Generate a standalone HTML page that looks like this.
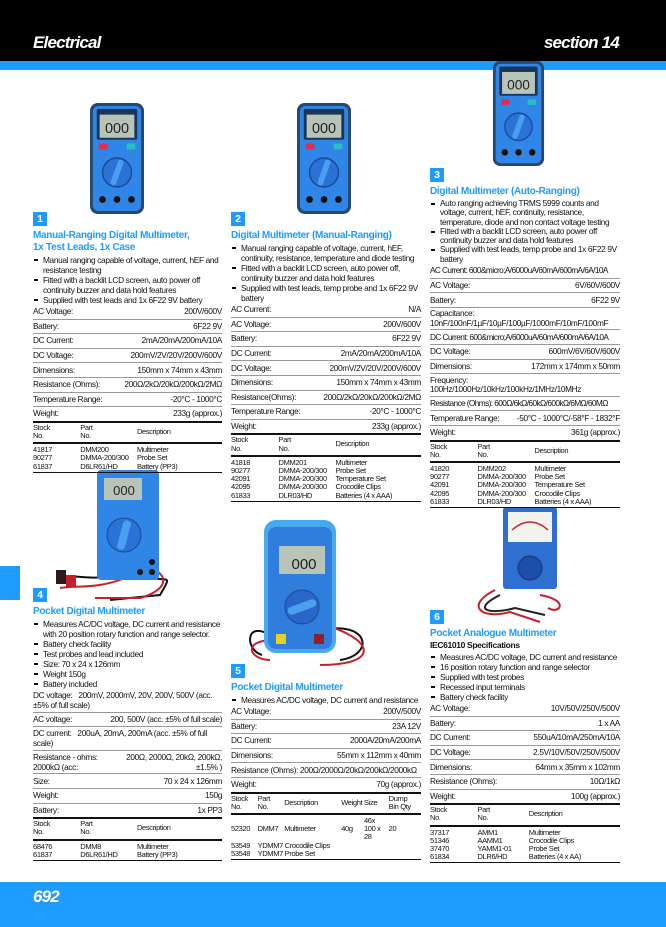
<!DOCTYPE html>
<html><head><meta charset="utf-8">
<style>
*{margin:0;padding:0;box-sizing:border-box}
body{width:666px;height:927px;position:relative;background:#fff;font-family:"Liberation Sans",sans-serif;color:#111;overflow:hidden}
.hdr{position:absolute;left:0;top:0;width:666px;height:61px;background:#000}
.hdr span{position:absolute;top:33px;color:#fff;font-weight:bold;font-style:italic;font-size:17px;letter-spacing:-0.8px}
.stripe{position:absolute;left:0;top:61px;width:666px;height:9px;background:#1e9bff}
.foot{position:absolute;left:0;top:882px;width:666px;height:45px;background:#1e9bff}
.foot span{position:absolute;left:33px;top:5px;color:#fff;font-weight:bold;font-style:italic;font-size:17px;letter-spacing:-0.8px}
.tab{position:absolute;left:0;top:566px;width:20px;height:34px;background:#1e9bff}
.sec{position:absolute;font-size:8.3px;letter-spacing:-0.35px}
.badge{width:14px;height:14px;background:#1e9bff;color:#fff;font-weight:bold;font-size:10.5px;text-align:center;line-height:14px;margin-bottom:4px;letter-spacing:0}
.title{color:#1e9bff;font-weight:bold;font-size:10px;line-height:12px;letter-spacing:-0.3px}
.sub{font-weight:bold;font-size:8.5px;line-height:11px}
ul{list-style:none;line-height:10px;margin-top:1px}
ul li{padding-left:10px;position:relative}
ul li:before{content:"";position:absolute;left:1px;top:4px;width:4px;height:2px;background:#111}
.row{display:flex;justify-content:space-between;line-height:11px;padding:1.3px 0 1.3px 0;border-bottom:1px solid #999}
.row.first{border-top:none}
.row.blk{display:block}
.row.blk b{font-weight:normal}
table{width:100%;border-collapse:collapse;font-size:7.5px;line-height:8.2px;border-top:2px solid #111;border-bottom:1.5px solid #111}
th{font-weight:normal;text-align:left;vertical-align:middle;padding:1px 0 2px 0;border-bottom:2px solid #111}
td{padding:0;vertical-align:top}
tbody tr:first-child td{padding-top:2px}
tbody tr:last-child td{padding-bottom:1px}
</style></head><body>
<div class="hdr"><span style="left:33px">Electrical</span><span style="right:47px">section 14</span></div>
<div class="stripe"></div>
<div class="tab"></div>
<div class="foot"><span>692</span></div>

<svg width="666" height="927" style="position:absolute;left:0;top:0" viewBox="0 0 666 927">
<defs>
<symbol id="m" viewBox="0 0 56 115">
<rect x="0" y="0" width="56" height="115" rx="8" fill="#27476f"/>
<rect x="3" y="3" width="50" height="109" rx="6" fill="#2f86e6"/>
<rect x="7" y="6" width="42" height="32" rx="2" fill="#1b3558"/>
<rect x="10" y="12" width="36" height="24" fill="#b9c4b8"/>
<text x="28" y="31" font-family="Liberation Sans" font-size="15" text-anchor="middle" fill="#222">000</text>
<rect x="9" y="42" width="9" height="6" fill="#d83050"/>
<rect x="38" y="42" width="9" height="6" fill="#28c0c0"/>
<circle cx="28" cy="72" r="15" fill="#2a72d6" stroke="#1b4b90" stroke-width="1.5"/>
<rect x="25" y="58" width="6" height="28" rx="3" fill="#4aa0f0" transform="rotate(20 28 72)"/>
<circle cx="13" cy="100" r="3.5" fill="#111"/><circle cx="28" cy="100" r="3.5" fill="#111"/><circle cx="43" cy="100" r="3.5" fill="#111"/>
</symbol>
</defs>
<use href="#m" x="90" y="102" width="54" height="113"/>
<use href="#m" x="297" y="102" width="54" height="113"/>
<use href="#m" x="489" y="61" width="59" height="105"/>
<!-- meter 4 -->
<path d="M120 572 C90 585 70 570 58 580 M140 575 C165 585 175 570 160 595 L110 600" stroke="#111" stroke-width="2" fill="none"/>
<path d="M125 578 C95 590 75 585 60 588 M150 568 C170 575 168 590 140 598 L95 598" stroke="#c8202a" stroke-width="2" fill="none"/>
<rect x="97" y="470" width="62" height="110" rx="4" fill="#2f86e6"/>
<rect x="104" y="478" width="38" height="22" fill="#b9c4b8"/>
<text x="124" y="495" font-family="Liberation Sans" font-size="13" text-anchor="middle" fill="#222">000</text>
<circle cx="124" cy="535" r="17" fill="#2a72d6" stroke="#1b4b90"/>
<rect x="120" y="520" width="8" height="30" rx="4" fill="#4aa0f0" transform="rotate(15 124 535)"/>
<circle cx="152" cy="562" r="3" fill="#111"/><circle cx="152" cy="572" r="3" fill="#111"/><circle cx="140" cy="572" r="3" fill="#111"/>
<rect x="56" y="570" width="10" height="14" fill="#301818"/><rect x="66" y="575" width="10" height="12" fill="#c8202a"/>
<!-- meter 5 -->
<path d="M270 635 C245 620 245 650 262 655 M320 630 C370 620 375 655 340 660" stroke="#111" stroke-width="2" fill="none"/>
<path d="M275 640 C240 640 250 660 270 660 M325 625 C375 640 380 665 320 665" stroke="#c8202a" stroke-width="2" fill="none"/>
<rect x="264" y="520" width="72" height="133" rx="12" fill="#4aa8ee"/>
<rect x="268" y="527" width="64" height="122" rx="8" fill="#2f7ddc"/>
<rect x="279" y="546" width="46" height="28" fill="#b9c4b8"/>
<text x="304" y="569" font-family="Liberation Sans" font-size="15" text-anchor="middle" fill="#222">000</text>
<circle cx="302" cy="607" r="17" fill="#2a66c8" stroke="#1b4b90"/>
<rect x="298" y="592" width="8" height="30" rx="4" fill="#4aa0f0" transform="rotate(70 302 607)"/>
<rect x="276" y="634" width="10" height="10" fill="#e8d020"/><rect x="314" y="634" width="10" height="10" fill="#902030"/>
<!-- meter 6 -->
<path d="M495 590 C465 605 480 620 510 612 L540 622 M540 595 C570 600 560 615 548 608" stroke="#c8202a" stroke-width="2" fill="none"/>
<path d="M500 595 C470 610 490 615 515 608 L545 615" stroke="#222" stroke-width="2" fill="none"/>
<rect x="503" y="507" width="54" height="82" rx="3" fill="#2f6fd0"/>
<rect x="508" y="512" width="44" height="30" fill="#f2f2ee"/>
<path d="M512 530 Q530 514 548 530" stroke="#c03030" stroke-width="1.5" fill="none"/>
<circle cx="530" cy="568" r="12" fill="#1e4fa8" stroke="#123870"/>
</svg>

<!-- Section 1 -->
<div class="sec" style="left:33px;top:212px;width:189px">
<div class="badge">1</div>
<div class="title">Manual-Ranging Digital Multimeter,<br>1x Test Leads, 1x Case</div>
<ul><li>Manual ranging capable of voltage, current, hEF and resistance testing</li><li>Fitted with a backlit LCD screen, auto power off continuity buzzer and data hold features</li><li>Supplied with test leads and 1x 6F22 9V battery</li></ul>
<div class="row"><span>AC Voltage:</span><span>200V/600V</span></div>
<div class="row"><span>Battery:</span><span>6F22 9V</span></div>
<div class="row"><span>DC Current:</span><span>2mA/20mA/200mA/10A</span></div>
<div class="row"><span>DC Voltage:</span><span>200mV/2V/20V/200V/600V</span></div>
<div class="row"><span>Dimensions:</span><span>150mm x 74mm x 43mm</span></div>
<div class="row"><span>Resistance (Ohms):</span><span>200Ω/2kΩ/20kΩ/200kΩ/2MΩ</span></div>
<div class="row"><span>Temperature Range:</span><span>-20°C - 1000°C</span></div>
<div class="row" style="border-bottom:none"><span>Weight:</span><span>233g (approx.)</span></div>
<table><thead><tr><th style="width:25%">Stock<br>No.</th><th style="width:30%">Part<br>No.</th><th>Description</th></tr></thead>
<tbody><tr><td>41817</td><td>DMM200</td><td>Multimeter</td></tr><tr><td>90277</td><td>DMMA-200/300</td><td>Probe Set</td></tr><tr><td>61837</td><td>D6LR61/HD</td><td>Battery (PP3)</td></tr></tbody></table>
</div>

<!-- Section 2 -->
<div class="sec" style="left:231px;top:212px;width:190px">
<div class="badge">2</div>
<div class="title">Digital Multimeter (Manual-Ranging)</div>
<ul><li>Manual ranging capable of voltage, current, hEF, continuity, resistance, temperature and diode testing</li><li>Fitted with a backlit LCD screen, auto power off, continuity buzzer and data hold features</li><li>Supplied with test leads, temp probe and 1x 6F22 9V battery</li></ul>
<div class="row"><span>AC Current:</span><span>N/A</span></div>
<div class="row"><span>AC Voltage:</span><span>200V/600V</span></div>
<div class="row"><span>Battery:</span><span>6F22 9V</span></div>
<div class="row"><span>DC Current:</span><span>2mA/20mA/200mA/10A</span></div>
<div class="row"><span>DC Voltage:</span><span>200mV/2V/20V/200V/600V</span></div>
<div class="row"><span>Dimensions:</span><span>150mm x 74mm x 43mm</span></div>
<div class="row"><span>Resistance(Ohms):</span><span>200Ω/2kΩ/20kΩ/200kΩ/2MΩ</span></div>
<div class="row"><span>Temperature Range:</span><span>-20°C - 1000°C</span></div>
<div class="row" style="border-bottom:none"><span>Weight:</span><span>233g (approx.)</span></div>
<table><thead><tr><th style="width:25%">Stock<br>No.</th><th style="width:30%">Part<br>No.</th><th>Description</th></tr></thead>
<tbody><tr><td>41818</td><td>DMM201</td><td>Multimeter</td></tr><tr><td>90277</td><td>DMMA-200/300</td><td>Probe Set</td></tr><tr><td>42091</td><td>DMMA-200/300</td><td>Temperature Set</td></tr><tr><td>42095</td><td>DMMA-200/300</td><td>Crocodile Clips</td></tr><tr><td>61833</td><td>DLR03/HD</td><td>Batteries (4 x AAA)</td></tr></tbody></table>
</div>

<!-- Section 3 -->
<div class="sec" style="left:430px;top:168px;width:190px">
<div class="badge">3</div>
<div class="title">Digital Multimeter (Auto-Ranging)</div>
<ul style="line-height:9.3px"><li>Auto ranging achieving TRMS 5999 counts and voltage, current, hEF, continuity, resistance, temperature, diode and non contact voltage testing</li><li>Fitted with a backlit LCD screen, auto power off continuity buzzer and data hold features</li><li>Supplied with test leads, temp probe and 1x 6F22 9V battery</li></ul>
<div class="row" style="letter-spacing:-0.6px"><span>AC Current: 600&amp;micro;A/6000uA/60mA/600mA/6A/10A</span></div>
<div class="row"><span>AC Voltage:</span><span>6V/60V/600V</span></div>
<div class="row"><span>Battery:</span><span>6F22 9V</span></div>
<div class="row blk" style="line-height:9.5px">Capacitance: 10nF/100nF/1µF/10µF/100µF/1000mF/10mF/100mF</div>
<div class="row" style="letter-spacing:-0.6px"><span>DC Current: 600&amp;micro;A/6000uA/60mA/600mA/6A/10A</span></div>
<div class="row"><span>DC Voltage:</span><span>600mV/6V/60V/600V</span></div>
<div class="row"><span>Dimensions:</span><span>172mm x 174mm x 50mm</span></div>
<div class="row blk" style="line-height:9.5px">Frequency: &nbsp; &nbsp; 100Hz/1000Hz/10kHz/100kHz/1MHz/10MHz</div>
<div class="row" style="letter-spacing:-0.6px"><span>Resistance (Ohms): 600Ω/6kΩ/60kΩ/600kΩ/6MΩ/60MΩ</span></div>
<div class="row"><span>Temperature Range:</span><span>-50°C - 1000°C/-58°F - 1832°F</span></div>
<div class="row" style="border-bottom:none"><span>Weight:</span><span>361g (approx.)</span></div>
<table><thead><tr><th style="width:25%">Stock<br>No.</th><th style="width:30%">Part<br>No.</th><th>Description</th></tr></thead>
<tbody><tr><td>41820</td><td>DMM202</td><td>Multimeter</td></tr><tr><td>90277</td><td>DMMA-200/300</td><td>Probe Set</td></tr><tr><td>42091</td><td>DMMA-200/300</td><td>Temperature Set</td></tr><tr><td>42095</td><td>DMMA-200/300</td><td>Crocodile Clips</td></tr><tr><td>61833</td><td>DLR03/HD</td><td>Batteries (4 x AAA)</td></tr></tbody></table>
</div>

<!-- Section 4 -->
<div class="sec" style="left:33px;top:588px;width:189px">
<div class="badge">4</div>
<div class="title">Pocket Digital Multimeter</div>
<ul><li>Measures AC/DC voltage, DC current and resistance with 20 position rotary function and range selector.</li><li>Battery check facility</li><li>Test probes and lead included</li><li>Size: 70 x 24 x 126mm</li><li>Weight 150g</li><li>Battery included</li></ul>
<div class="row blk" style="line-height:10px">DC voltage: &nbsp; 200mV, 2000mV, 20V, 200V, 500V (acc. ±5% of full scale)</div>
<div class="row"><span>AC voltage:</span><span>200, 500V (acc. ±5% of full scale)</span></div>
<div class="row blk" style="line-height:10px">DC current: &nbsp; 200uA, 20mA, 200mA (acc. ±5% of full scale)</div>
<div class="row blk" style="line-height:10px"><span style="display:flex;justify-content:space-between"><span>Resistance - ohms:</span><span>200Ω, 2000Ω, 20kΩ, 200kΩ,</span></span><span style="display:flex;justify-content:space-between"><span>2000kΩ (acc:</span><span>±1.5% )</span></span></div>
<div class="row"><span>Size:</span><span>70 x 24 x 126mm</span></div>
<div class="row"><span>Weight:</span><span>150g</span></div>
<div class="row" style="border-bottom:none"><span>Battery:</span><span>1x PP3</span></div>
<table><thead><tr><th style="width:25%">Stock<br>No.</th><th style="width:30%">Part<br>No.</th><th>Description</th></tr></thead>
<tbody><tr><td>68476</td><td>DMM8</td><td>Multimeter</td></tr><tr><td>61837</td><td>D6LR61/HD</td><td>Battery (PP3)</td></tr></tbody></table>
</div>

<!-- Section 5 -->
<div class="sec" style="left:231px;top:664px;width:190px">
<div class="badge">5</div>
<div class="title">Pocket Digital Multimeter</div>
<ul><li>Measures AC/DC voltage, DC current and resistance</li></ul>
<div class="row"><span>AC Voltage:</span><span>200V/500V</span></div>
<div class="row"><span>Battery:</span><span>23A 12V</span></div>
<div class="row"><span>DC Current:</span><span>2000A/20mA/200mA</span></div>
<div class="row"><span>Dimensions:</span><span>55mm x 112mm x 40mm</span></div>
<div class="row"><span>Resistance (Ohms): 200Ω/2000Ω/20kΩ/200kΩ/2000kΩ</span></div>
<div class="row" style="border-bottom:none"><span>Weight:</span><span>70g (approx.)</span></div>
<table><thead><tr><th style="width:14%">Stock<br>No.</th><th style="width:14%">Part<br>No.</th><th style="width:30%">Description</th><th style="width:12%">Weight</th><th style="width:13%">Size</th><th>Dump<br>Bin Qty</th></tr></thead>
<tbody><tr><td style="vertical-align:middle">52320</td><td style="vertical-align:middle">DMM7</td><td style="vertical-align:middle">Multimeter</td><td style="vertical-align:middle">40g</td><td>46x<br>100 x<br>28</td><td style="vertical-align:middle">20</td></tr>
<tr><td>53549</td><td colspan="5">YDMM7 Crocodile Clips</td></tr><tr><td>53548</td><td colspan="5">YDMM7 Probe Set</td></tr></tbody></table>
</div>

<!-- Section 6 -->
<div class="sec" style="left:430px;top:610px;width:190px">
<div class="badge">6</div>
<div class="title">Pocket Analogue Multimeter</div>
<div class="sub">IEC61010 Specifications</div>
<ul><li>Measures AC/DC voltage, DC current and resistance</li><li>16 position rotary function and range selector</li><li>Supplied with test probes</li><li>Recessed input terminals</li><li>Battery check facility</li></ul>
<div class="row"><span>AC Voltage:</span><span>10V/50V/250V/500V</span></div>
<div class="row"><span>Battery:</span><span>1 x AA</span></div>
<div class="row"><span>DC Current:</span><span>550uA/10mA/250mA/10A</span></div>
<div class="row"><span>DC Voltage:</span><span>2.5V/10V/50V/250V/500V</span></div>
<div class="row"><span>Dimensions:</span><span>64mm x 35mm x 102mm</span></div>
<div class="row"><span>Resistance (Ohms):</span><span>10Ω/1kΩ</span></div>
<div class="row" style="border-bottom:none"><span>Weight:</span><span>100g (approx.)</span></div>
<table><thead><tr><th style="width:25%">Stock<br>No.</th><th style="width:27%">Part<br>No.</th><th>Description</th></tr></thead>
<tbody><tr><td>37317</td><td>AMM1</td><td>Multimeter</td></tr><tr><td>51346</td><td>AAMM1</td><td>Crocodile Clips</td></tr><tr><td>37470</td><td>YAMM1-01</td><td>Probe Set</td></tr><tr><td>61834</td><td>DLR6/HD</td><td>Batteries (4 x AA)</td></tr></tbody></table>
</div>
</body></html>
